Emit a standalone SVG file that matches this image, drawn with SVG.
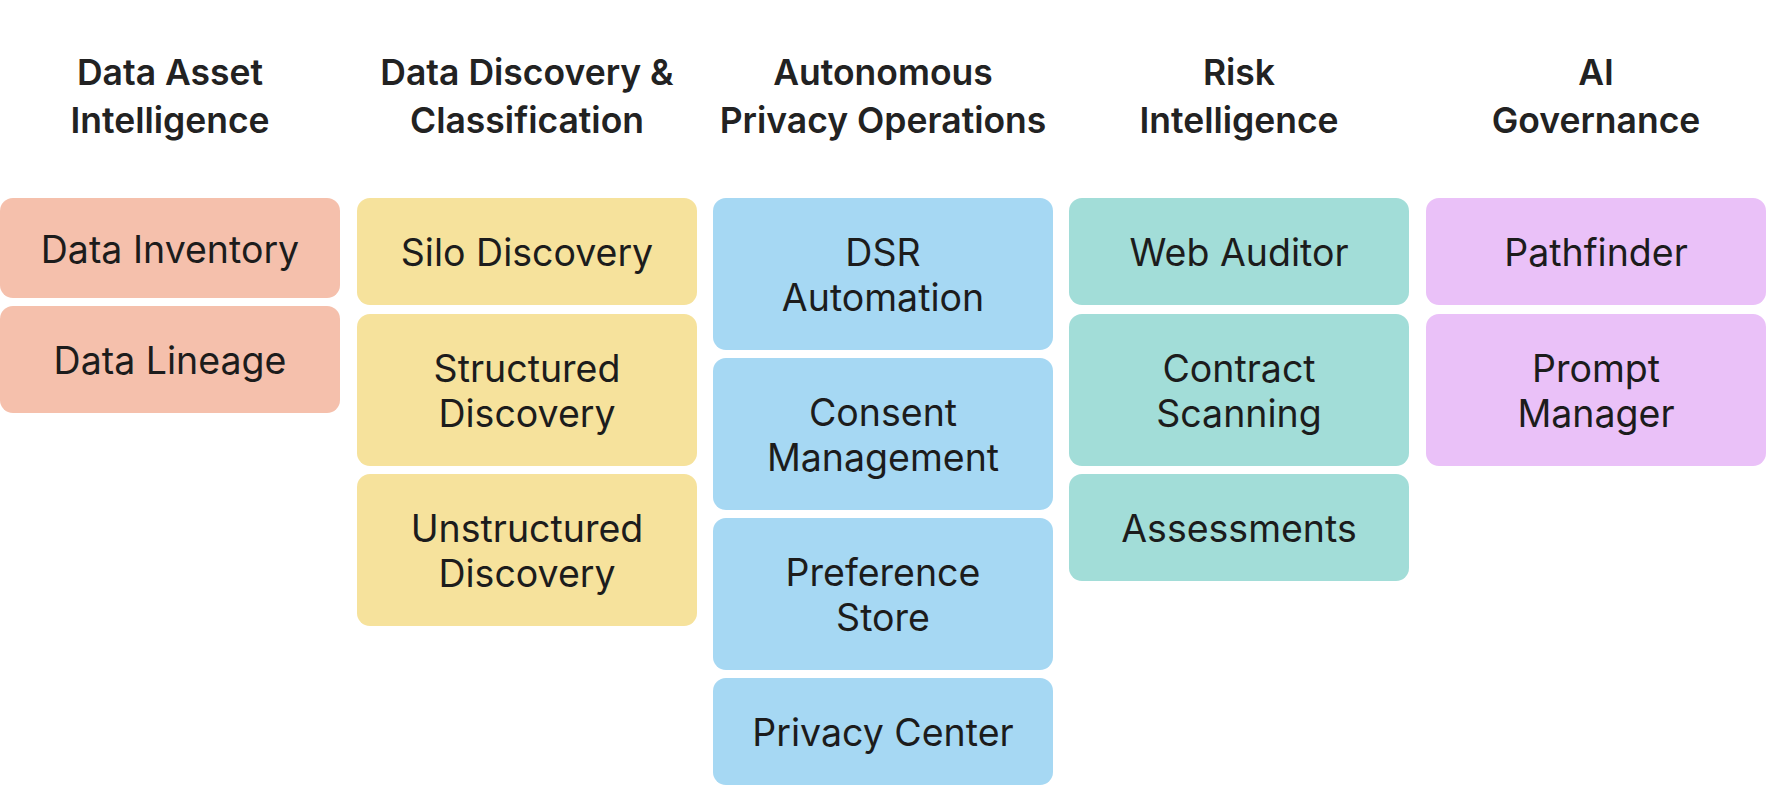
<svg xmlns="http://www.w3.org/2000/svg" width="1766" height="786" viewBox="0 0 1766 786">
<style>
.h{font-family:Inter,"Liberation Sans",sans-serif;font-size:35.5px;font-weight:600;fill:#222;text-anchor:middle}
.t{font-family:Inter,"Liberation Sans",sans-serif;font-size:37.5px;font-weight:400;fill:#1c1c1c;text-anchor:middle}
.c1{fill:#F5C0AC}.c2{fill:#F6E29C}.c3{fill:#A6D8F3}.c4{fill:#A2DDD8}.c5{fill:#EAC1F8}
</style>
<rect width="1766" height="786" fill="#fff"/>
<g id="headers">
<text class="h" x="170" y="85">Data Asset</text><text class="h" x="170" y="133">Intelligence</text>
<text class="h" x="527" y="85">Data Discovery &amp;</text><text class="h" x="527" y="133">Classification</text>
<text class="h" x="883" y="85">Autonomous</text><text class="h" x="883" y="133">Privacy Operations</text>
<text class="h" x="1239" y="85">Risk</text><text class="h" x="1239" y="133">Intelligence</text>
<text class="h" x="1596" y="85">AI</text><text class="h" x="1596" y="133">Governance</text>
</g>
<g id="n-data-inventory"><rect class="c1" x="0" y="198" width="340" height="100" rx="13"/><text class="t" x="170" y="263">Data Inventory</text></g>
<g id="n-data-lineage"><rect class="c1" x="0" y="306" width="340" height="107" rx="13"/><text class="t" x="170" y="374">Data Lineage</text></g>
<g id="n-silo"><rect class="c2" x="357" y="198" width="340" height="107" rx="13"/><text class="t" x="527" y="266">Silo Discovery</text></g>
<g id="n-structured"><rect class="c2" x="357" y="314" width="340" height="152" rx="13"/><text class="t" x="527" y="382">Structured</text><text class="t" x="527" y="427">Discovery</text></g>
<g id="n-unstructured"><rect class="c2" x="357" y="474" width="340" height="152" rx="13"/><text class="t" x="527" y="542">Unstructured</text><text class="t" x="527" y="587">Discovery</text></g>
<g id="n-dsr"><rect class="c3" x="713" y="198" width="340" height="152" rx="13"/><text class="t" x="883" y="266">DSR</text><text class="t" x="883" y="311">Automation</text></g>
<g id="n-consent"><rect class="c3" x="713" y="358" width="340" height="152" rx="13"/><text class="t" x="883" y="426">Consent</text><text class="t" x="883" y="471">Management</text></g>
<g id="n-preference"><rect class="c3" x="713" y="518" width="340" height="152" rx="13"/><text class="t" x="883" y="586">Preference</text><text class="t" x="883" y="631">Store</text></g>
<g id="n-privacy-center"><rect class="c3" x="713" y="678" width="340" height="107" rx="13"/><text class="t" x="883" y="746">Privacy Center</text></g>
<g id="n-web-auditor"><rect class="c4" x="1069" y="198" width="340" height="107" rx="13"/><text class="t" x="1239" y="266">Web Auditor</text></g>
<g id="n-contract"><rect class="c4" x="1069" y="314" width="340" height="152" rx="13"/><text class="t" x="1239" y="382">Contract</text><text class="t" x="1239" y="427">Scanning</text></g>
<g id="n-assessments"><rect class="c4" x="1069" y="474" width="340" height="107" rx="13"/><text class="t" x="1239" y="542">Assessments</text></g>
<g id="n-pathfinder"><rect class="c5" x="1426" y="198" width="340" height="107" rx="13"/><text class="t" x="1596" y="266">Pathfinder</text></g>
<g id="n-prompt"><rect class="c5" x="1426" y="314" width="340" height="152" rx="13"/><text class="t" x="1596" y="382">Prompt</text><text class="t" x="1596" y="427">Manager</text></g>
<g id="connectors"/>
</svg>
